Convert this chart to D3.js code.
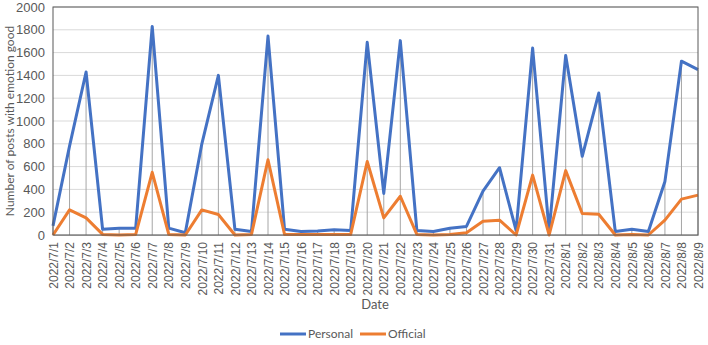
<!DOCTYPE html>
<html>
<head>
<meta charset="utf-8">
<script src="https://cdn.jsdelivr.net/npm/d3@7"></script>
<style>
  body { margin: 0; background: #fff; }
  svg { display: block; font-family: Lato, "Open Sans", sans-serif; }
</style>
</head>
<body>
<div id="chart"></div>
<script>
// Data
const dates = [
  "2022/7/1", "2022/7/2", "2022/7/3", "2022/7/4", "2022/7/5", "2022/7/6", "2022/7/7", "2022/7/8",
  "2022/7/9", "2022/7/10", "2022/7/11", "2022/7/12", "2022/7/13", "2022/7/14", "2022/7/15", "2022/7/16",
  "2022/7/17", "2022/7/18", "2022/7/19", "2022/7/20", "2022/7/21", "2022/7/22", "2022/7/23", "2022/7/24",
  "2022/7/25", "2022/7/26", "2022/7/27", "2022/7/28", "2022/7/29", "2022/7/30", "2022/7/31", "2022/8/1",
  "2022/8/2", "2022/8/3", "2022/8/4", "2022/8/5", "2022/8/6", "2022/8/7", "2022/8/8", "2022/8/9"
];
const personal = [
  80, 780, 1430, 50, 60, 60, 1830, 60,
  20, 800, 1400, 50, 30, 1745, 50, 30,
  35, 45, 40, 1690, 365, 1705, 40, 30,
  60, 75, 385, 590, 40, 1640, 40, 1575,
  690, 1245, 30, 50, 30, 470, 1525, 1450
];
const official = [
  0, 220, 150, 5, 0, 5, 550, 5,
  0, 220, 180, 0, 5, 660, 5, 5,
  5, 5, 5, 645, 150, 340, 5, 0,
  5, 20, 120, 130, 0, 525, 0, 565,
  188, 182, 0, 5, 0, 130, 315, 350
];
const yTicks = [0, 200, 400, 600, 800, 1000, 1200, 1400, 1600, 1800, 2000];
const seriesNames = ["Personal", "Official"];
const seriesColors = ["#4472C4", "#ED7D31"];

const W = 708, H = 345;
const margin = { top: 7, right: 10, bottom: 110, left: 53 };
const width = W - margin.left - margin.right;
const height = H - margin.top - margin.bottom;

const svg = d3.select("#chart").append("svg")
  .attr("width", W)
  .attr("height", H);

const g = svg.append("g")
  .attr("transform", `translate(${margin.left},${margin.top})`);

const x = d3.scalePoint().domain(dates).range([0, width]);
const y = d3.scaleLinear().domain([0, 2000]).range([height, 0]);

// gridlines
g.append("g")
  .selectAll("line")
  .data(yTicks)
  .enter().append("line")
  .attr("x1", 0).attr("x2", width)
  .attr("y1", d => y(d)).attr("y2", d => y(d))
  .attr("stroke", "#d9d9d9")
  .attr("stroke-width", 1);

// drop lines from the highest point of each date
g.append("g")
  .selectAll("line")
  .data(dates)
  .enter().append("line")
  .attr("x1", d => x(d)).attr("x2", d => x(d))
  .attr("y1", (d, i) => y(Math.max(personal[i], official[i])))
  .attr("y2", height)
  .attr("stroke", "#a6a6a6")
  .attr("stroke-width", 1);

// y axis labels
const yAxis = g.append("g")
  .call(d3.axisLeft(y).tickValues(yTicks).tickFormat(d3.format("d")).tickSize(0).tickPadding(8));
yAxis.select(".domain").remove();
yAxis.selectAll("text")
  .attr("fill", "#595959")
  .style("font-size", "13px");

// x axis
const xAxis = g.append("g")
  .attr("transform", `translate(0,${height})`)
  .call(d3.axisBottom(x).tickSize(0).tickPadding(0));
xAxis.select(".domain").attr("stroke", "#bfbfbf");
xAxis.selectAll("text")
  .attr("fill", "#595959")
  .style("font-size", "12px")
  .attr("text-anchor", "end")
  .attr("transform", "rotate(-90)")
  .attr("x", -7)
  .attr("y", 0)
  .attr("dy", "0.35em");

// lines
const line = d3.line()
  .x((d, i) => x(dates[i]))
  .y(d => y(d));

[personal, official].forEach((vals, k) => {
  g.append("path")
    .datum(vals)
    .attr("fill", "none")
    .attr("stroke", seriesColors[k])
    .attr("stroke-width", 3)
    .attr("stroke-linejoin", "round")
    .attr("d", line);
});

// plot border
g.append("rect")
  .attr("x", 0).attr("y", 0)
  .attr("width", width).attr("height", height)
  .attr("fill", "none")
  .attr("stroke", "#595959")
  .attr("stroke-width", 1);

// axis titles
svg.append("text")
  .attr("transform", "rotate(-90)")
  .attr("x", -(margin.top + height / 2))
  .attr("y", 14)
  .attr("text-anchor", "middle")
  .attr("fill", "#595959")
  .style("font-size", "12px")
  .text("Number of posts with emotion good");

svg.append("text")
  .attr("x", 375)
  .attr("y", 309)
  .attr("text-anchor", "middle")
  .attr("fill", "#595959")
  .style("font-size", "13px")
  .text("Date");

// legend
const legend = svg.append("g")
  .attr("transform", "translate(280,338)");
const item = legend.selectAll("g")
  .data(seriesNames)
  .enter().append("g")
  .attr("transform", (d, i) => `translate(${i * 80},0)`);
item.append("line")
  .attr("x1", 0).attr("x2", 26)
  .attr("y1", -4).attr("y2", -4)
  .attr("stroke", (d, i) => seriesColors[i])
  .attr("stroke-width", 3);
item.append("text")
  .attr("x", 28)
  .attr("y", 0)
  .attr("fill", "#595959")
  .style("font-size", "12px")
  .text(d => d);
</script>
</body>
</html>
